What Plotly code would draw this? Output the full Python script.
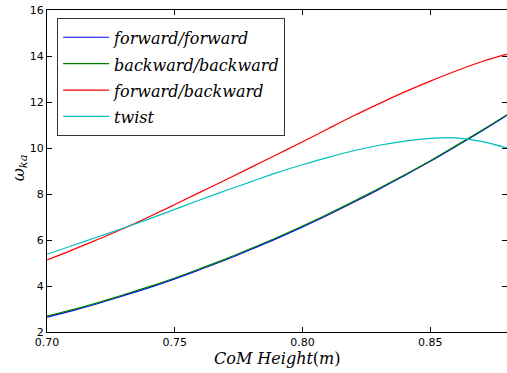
import plotly.graph_objects as go

x_vals = [0.70, 0.71, 0.72, 0.73, 0.74, 0.75, 0.76, 0.77, 0.78, 0.79,
          0.80, 0.81, 0.82, 0.83, 0.84, 0.85, 0.86, 0.87, 0.88]

forward_forward = [2.65, 2.93, 3.24, 3.58, 3.93, 4.31, 4.72, 5.14, 5.60, 6.07,
                   6.57, 7.09, 7.64, 8.21, 8.81, 9.42, 10.07, 10.73, 11.42]
backward_backward = [2.69, 2.97, 3.28, 3.62, 3.97, 4.35, 4.76, 5.18, 5.64, 6.11,
                     6.61, 7.13, 7.68, 8.25, 8.84, 9.45, 10.10, 10.76, 11.45]
forward_backward = [5.13, 5.57, 6.03, 6.50, 7.01, 7.54, 8.08, 8.62, 9.17, 9.72,
                    10.27, 10.84, 11.40, 11.93, 12.44, 12.91, 13.35, 13.75, 14.08]
twist = [5.38, 5.76, 6.14, 6.52, 6.92, 7.33, 7.75, 8.15, 8.54, 8.93,
         9.27, 9.59, 9.88, 10.12, 10.30, 10.42, 10.44, 10.29, 10.00]

x_ticks = [0.70, 0.75, 0.80, 0.85]
x_tick_text = ["0.70", "0.75", "0.80", "0.85"]
y_ticks = [2, 4, 6, 8, 10, 12, 14, 16]

series = [
    ("forward/forward", forward_forward, "#0000ff"),
    ("backward/backward", backward_backward, "#008000"),
    ("forward/backward", forward_backward, "#ff0000"),
    ("twist", twist, "#00bfbf"),
]

fig = go.Figure()
for name, vals, col in series:
    fig.add_trace(go.Scatter(
        x=x_vals, y=vals, mode="lines",
        name="<span style='font-size:16px'><i>" + name + "</i></span>",
        line=dict(color=col, width=1.2, shape="spline"),
    ))

axis_common = dict(
    showline=True, linecolor="black", linewidth=1, mirror="allticks",
    ticks="inside", ticklen=5, tickcolor="black", tickwidth=1,
    showgrid=False, zeroline=False, automargin=False,
    ticklabeloverflow="allow",
    tickfont=dict(family="DejaVu Sans", size=11, color="black"),
)

fig.update_layout(
    width=507, height=373,
    margin=dict(l=47, r=0, t=10, b=41, autoexpand=False),
    paper_bgcolor="white", plot_bgcolor="white",
    showlegend=True,
    legend=dict(
        x=0.022, y=0.975, xanchor="left", yanchor="top",
        bgcolor="white", bordercolor="#333333", borderwidth=1,
        font=dict(family="DejaVu Serif", size=18, color="black"),
        tracegroupgap=0, itemwidth=46,
    ),
    xaxis=dict(range=[0.70, 0.88], tickvals=x_ticks, ticktext=x_tick_text,
               **axis_common),
    yaxis=dict(range=[2, 16], tickvals=y_ticks, **axis_common),
    annotations=[
        dict(text="<i>CoM Height</i>(<i>m</i>)", xref="paper", yref="paper",
             x=0.5, y=-0.083, xanchor="center", yanchor="middle", showarrow=False,
             font=dict(family="DejaVu Serif", size=16, color="black")),
        dict(text="<i>ω</i><sub><i>ka</i></sub>", xref="paper", yref="paper",
             x=-0.06, y=0.51, xanchor="center", yanchor="middle", showarrow=False,
             textangle=-90,
             font=dict(family="DejaVu Serif", size=16, color="black")),
    ],
)

fig.write_html(
    "out.html",
    config={"displayModeBar": False},
    post_script="document.body.style.margin='0';document.body.style.overflow='hidden';",
)
